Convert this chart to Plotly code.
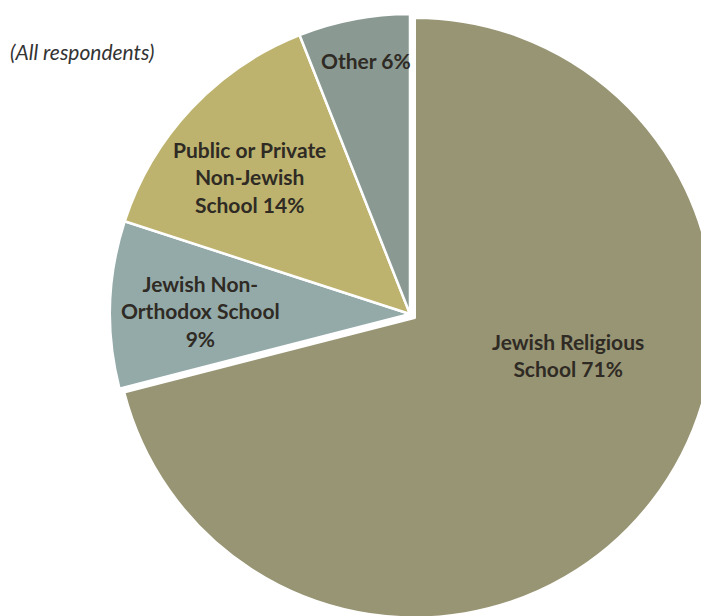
import plotly.graph_objects as go

categories = ["Jewish Religious School", "Jewish Non-Orthodox School",
              "Public or Private Non-Jewish School", "Other"]
display_labels = ["Jewish Religious<br>School 71%", "Jewish Non-<br>Orthodox School<br>9%",
                  "Public or Private<br>Non-Jewish<br>School 14%", "Other 6%"]
values = [71, 9, 14, 6]
colors = ["#989574", "#93aaa9", "#bdb36e", "#8a9a93"]
pulls = [0.02, 0, 0, 0]

W, H = 740, 640
# label anchor points (paper fractions)
label_pos = [(0.7568, 0.4578), (0.2595, 0.5266), (0.3270, 0.7359), (0.4838, 0.9172)]

fig = go.Figure(go.Pie(
    labels=categories, values=values, sort=False, direction="clockwise", rotation=0,
    marker=dict(colors=colors, line=dict(color="white", width=2.5)),
    pull=pulls, textinfo="none", hoverinfo="label+percent", showlegend=False,
    domain=dict(x=[0.1297, 0.9568], y=[0.04375, 1]),
))

for txt, (x, y) in zip(display_labels, label_pos):
    fig.add_annotation(x=x, y=y, xref="paper", yref="paper", text="<b>" + txt + "</b>",
                       showarrow=False, xanchor="center", yanchor="middle", align="center",
                       font=dict(family="Lato, Open Sans, sans-serif", size=21, color="#2f2b24"))

fig.add_annotation(x=0.0, y=0.9328, xref="paper", yref="paper", text="<i>(All respondents)</i>",
                   showarrow=False, xanchor="left", yanchor="middle",
                   font=dict(family="Lato, Open Sans, sans-serif", size=21, color="#333333"))

fig.update_layout(width=W, height=H, margin=dict(l=0, r=0, t=0, b=0),
                  paper_bgcolor="white", plot_bgcolor="white")
fig.write_html("out.html")
